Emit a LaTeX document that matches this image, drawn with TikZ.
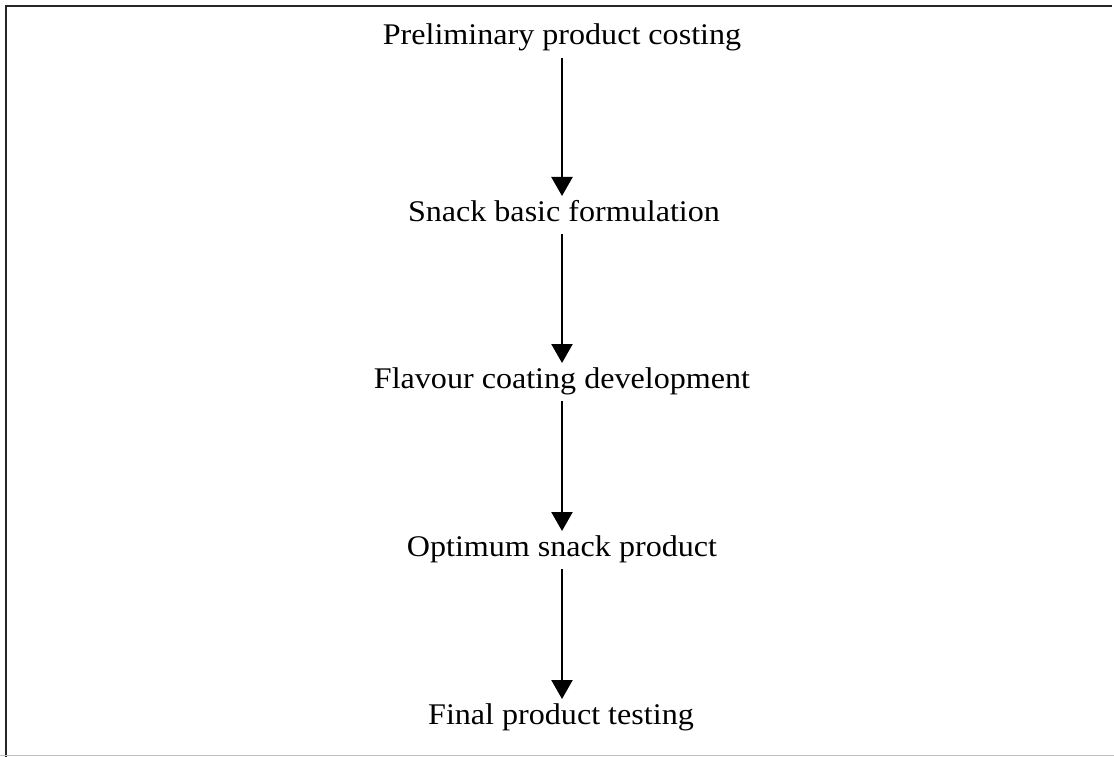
\documentclass[tikz,border=0pt]{standalone}
\usepackage{fontspec}
\setmainfont{Liberation Serif}[FakeStretch=1.07]
\usetikzlibrary{arrows.meta}
\begin{document}
\begin{tikzpicture}[x=1pt,y=-1pt,
  stage/.style={anchor=base,inner sep=0pt,font=\fontsize{30}{36}\selectfont},
  flow/.style={line width=2.3pt,-{Triangle[width=21pt,length=19pt]}},
  framedark/.style={line width=2.5pt,black!85},
  framelight/.style={line width=1pt,black!25}]
\useasboundingbox (0,0) rectangle (1114,757);
\coordinate (tl) at (6,6);
\coordinate (tr) at (1112,6);
\coordinate (bl) at (6,757);
\coordinate (bll) at (0,755);
\coordinate (brr) at (1114,755);
\draw[framedark] (tr) -- (tl) -- (bl);
\draw[framelight] (bll) -- (brr);
\node[stage] (s1) at (562,45) {Preliminary product costing};
\node[stage] (s2) at (564,221) {Snack basic formulation};
\node[stage] (s3) at (562,388) {Flavour coating development};
\node[stage] (s4) at (562,556) {Optimum snack product};
\node[stage] (s5) at (561,724) {Final product testing};
\foreach \a/\b in {s1/s2,s2/s3,s3/s4,s4/s5}{
  \draw[flow] ([yshift=-13pt]\a.base -| 562,0) -- ([yshift=25pt]\b.base -| 562,0);
}
\end{tikzpicture}
\end{document}
